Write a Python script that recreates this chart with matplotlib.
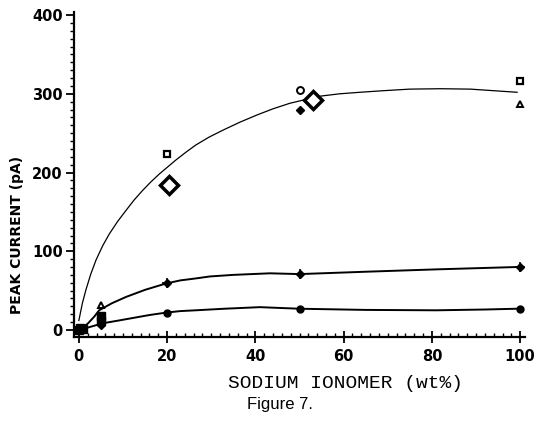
#!/usr/bin/env python3

import matplotlib
matplotlib.use("Agg")
import matplotlib.pyplot as plt
from matplotlib.ticker import MultipleLocator

# Fitted curves
fit_top_x = [0, 0.8, 1.6, 2.7, 3.9, 5.4, 6.9, 8.8, 10.7, 12.5, 14.4, 16.3, 18.2, 20.1, 22, 24.3,
             26.5, 29.5, 32.7, 36.5, 40.3, 44, 47.8, 50.8, 54.6, 59, 63.7, 69, 75, 82, 88.7, 94, 99.3]
fit_top_y = [12, 34, 51, 71, 89, 107, 122, 138, 152, 165, 177, 188, 198, 207, 216, 226,
             235, 245, 254, 264, 273, 281, 288, 292, 297, 300, 302, 304, 306, 306.5, 306, 304, 302]

fit_mid_x = [0, 2, 3.5, 4.6, 7.5, 10.7, 15, 19.7, 23, 26.5, 29.7, 35, 43.3, 50, 65, 81, 99.3]
fit_mid_y = [0, 8, 17, 25, 34, 42, 51, 59, 63, 65.5, 68, 70, 72, 71, 74, 77, 80]

fit_low_x = [0, 2, 5.4, 9, 12, 16, 19.7, 23, 26.5, 33, 41, 50, 65, 81, 92, 99.3]
fit_low_y = [0, 3, 8.5, 12, 15, 19, 22, 24, 25, 27, 29, 27, 25.5, 25, 26, 27]

# Data points by symbol
sq_open_x = [20, 100]
sq_open_y = [224, 316]
circ_open_x = [50]
circ_open_y = [305]
dia_big_x = [20.5, 53]
dia_big_y = [184, 292]
tri_x = [5, 100]
tri_y = [32, 287]
dot_x = [50, 5]
dot_y = [279, 6]
plus_x = [20, 50, 100]
plus_y = [60, 71, 80]
circ_fill_x = [20, 50, 100]
circ_fill_y = [22, 27, 27]
sq_fill_x = [0, 1, 0.3, 5, 5]
sq_fill_y = [0, 1, 3, 12, 18]

xticks = [0, 20, 40, 60, 80, 100]
yticks = [0, 100, 200, 300, 400]


def main():
    fig = plt.figure(figsize=(5.37, 4.25), dpi=100)
    ax = fig.add_axes([0.1378, 0.2071, 0.8399, 0.7647])

    # Curves
    ax.plot(fit_top_x, fit_top_y, "k-", lw=0.9)
    ax.plot(fit_mid_x, fit_mid_y, "k-", lw=1.4)
    ax.plot(fit_low_x, fit_low_y, "k-", lw=1.4)

    # Symbols
    ax.plot(sq_open_x, sq_open_y, "ks", mfc="white", ms=5, mew=1.6)
    ax.plot(circ_open_x, circ_open_y, "ko", mfc="white", ms=5, mew=1.4)
    ax.plot(dia_big_x, dia_big_y, "kD", mfc="white", ms=9, mew=2.5)
    ax.plot(tri_x, tri_y, "k^", mfc="white", ms=5, mew=1.4)
    ax.plot(dot_x, dot_y, "kD", ms=4)
    ax.plot(plus_x, plus_y, "kD", ms=4)
    ax.plot(plus_x, plus_y, "k+", ms=7, mew=1.2)
    ax.plot(circ_fill_x, circ_fill_y, "ko", ms=5)
    ax.plot(sq_fill_x, sq_fill_y, "ks", ms=6)

    ax.set_xlim(-1.1, 101.1)
    ax.set_ylim(-8.9, 404)

    ax.spines["top"].set_visible(False)
    ax.spines["right"].set_visible(False)
    ax.spines["left"].set_linewidth(1.6)
    ax.spines["bottom"].set_linewidth(1.6)

    ax.set_xticks(xticks)
    ax.set_yticks(yticks)
    ax.xaxis.set_minor_locator(MultipleLocator(2))
    ax.yaxis.set_minor_locator(MultipleLocator(10))
    ax.tick_params(axis="x", which="major", direction="inout", length=9, width=1.3, pad=4)
    ax.tick_params(axis="x", which="minor", direction="in", length=3, width=1.0)
    ax.tick_params(axis="y", which="major", direction="out", length=6, width=1.3, pad=2)
    ax.tick_params(axis="y", which="minor", direction="out", length=3, width=1.0)
    for lab in ax.get_xticklabels() + ax.get_yticklabels():
        lab.set_fontsize(10.5)
        lab.set_fontweight("bold")

    # Axis titles
    fig.text(17 / 537, 1 - 235 / 425, "PEAK CURRENT (pA)", rotation=90,
             ha="center", va="center", fontsize=10, fontweight="bold",
             family=["Liberation Sans Narrow", "DejaVu Sans"])
    fig.text(345 / 537, 1 - 383 / 425, "SODIUM IONOMER (wt%)",
             ha="center", va="center", fontsize=14, family=["Liberation Mono", "DejaVu Sans Mono"])
    fig.text(280 / 537, 1 - 405 / 425, "Figure 7.",
             ha="center", va="center", fontsize=12, family=["Liberation Sans", "DejaVu Sans"])

    plt.savefig("out.png", dpi=100)


if __name__ == "__main__":
    main()
